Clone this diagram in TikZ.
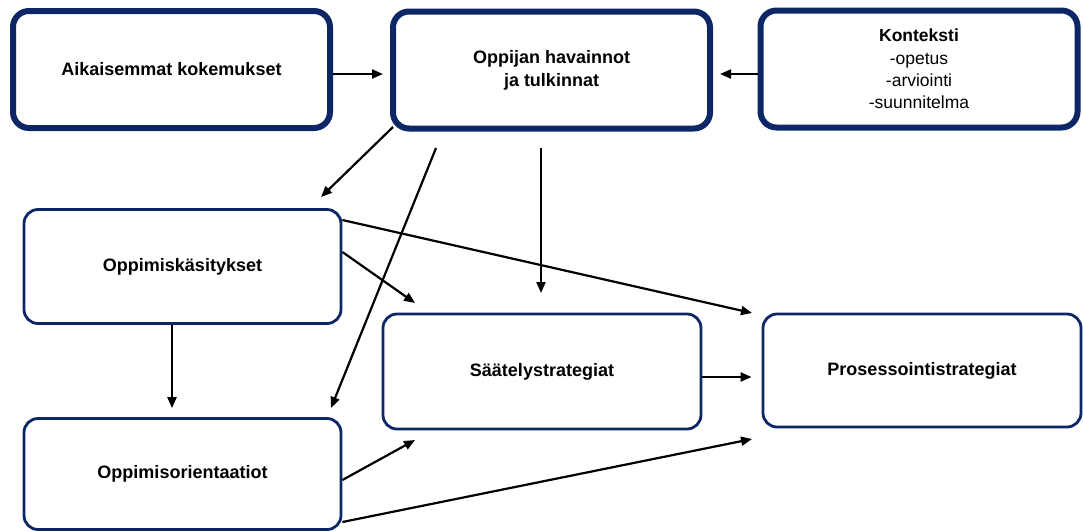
\documentclass[tikz,border=0pt]{standalone}
\usepackage{fontspec}
\setmainfont{Liberation Sans}
\usetikzlibrary{arrows.meta}
\definecolor{navy}{RGB}{12,38,102}
\tikzset{
  heavybox/.style={draw=navy, line width=6pt, rounded corners=16pt, fill=white,
    minimum width=317pt, minimum height=117pt, align=center, inner sep=0pt,
    font=\fontsize{18}{23}\selectfont\bfseries},
  lightbox/.style={draw=navy, line width=2.8pt, rounded corners=14pt, fill=white,
    minimum width=317pt, minimum height=114pt, align=center, inner sep=0pt,
    font=\fontsize{18}{23}\selectfont\bfseries},
  arr/.style={draw=black, line width=2.2pt, -{Triangle[length=11pt,width=9pt]}},
}
\begin{document}
\begin{tikzpicture}[x=1pt, y=-1pt]
\useasboundingbox (0,0) rectangle (1083,531);

% top row
\node[heavybox] (aik) at (171.5,69.5) {\raisebox{-4pt}{Aikaisemmat kokemukset}};
\node[heavybox] (opp) at (551.5,70) {Oppijan havainnot\\ja tulkinnat};
\node[heavybox, font=\fontsize{17.5}{22.3}\selectfont] (kon) at (919,69)
  {\textbf{Konteksti}\\-opetus\\-arviointi\\-suunnitelma};

% lower rows
\node[lightbox] (kas) at (182.5,266.5) {Oppimiskäsitykset};
\node[lightbox, minimum height=111pt] (ori) at (182.5,474) {Oppimisorientaatiot};
\node[lightbox, minimum width=318pt, minimum height=115pt] (saa) at (542,371.5) {Säätelystrategiat};
\node[lightbox, minimum width=318pt, minimum height=113pt] (pro) at (922,370.5) {Prosessointistrategiat};

% free ends of the connectors
\coordinate (oppA) at (393,127);
\coordinate (oppB) at (436,148);
\coordinate (oppC) at (541,148);
\coordinate (kasT) at (321,197);
\coordinate (oriT) at (331,408);
\coordinate (saaT) at (541,293);
\coordinate (saaL) at (415,303);
\coordinate (saaB) at (415,440);
\coordinate (proT) at (752,313);
\coordinate (proB) at (752,439);

% connectors
\draw[arr] (aik.east |- 0,74) -- ([xshift=-7pt]opp.west |- 0,74);
\draw[arr] (kon.west |- 0,74) -- ([xshift=7pt]opp.east |- 0,74);
\draw[arr] (oppA) -- (kasT);
\draw[arr] (oppB) -- (oriT);
\draw[arr] (oppC) -- (saaT);
\draw[arr] (kas.east |- 0,220) -- (proT);
\draw[arr] (kas.east |- 0,252) -- (saaL);
\draw[arr] (kas.south -| 172,0) -- ([yshift=9pt]ori.north -| 172,0);
\draw[arr] (saa.east |- 0,377) -- ([xshift=-10pt]pro.west |- 0,377);
\draw[arr] (ori.east |- 0,480) -- (saaB);
\draw[arr] (ori.east |- 0,522) -- (proB);
\end{tikzpicture}
\end{document}
